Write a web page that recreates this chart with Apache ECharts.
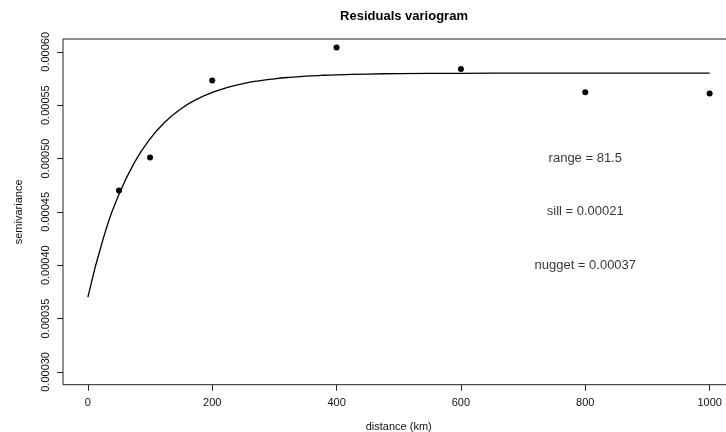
<!DOCTYPE html>
<html>
<head>
<meta charset="utf-8">
<script src="https://cdn.jsdelivr.net/npm/echarts@6/dist/echarts.min.js"></script>
<style>
html,body{margin:0;padding:0;background:#fff;}
#c{width:726px;height:432px;}
</style>
</head>
<body>
<div id="c"></div>
<script>
// Empirical variogram points
const distances = [50, 100, 200, 400, 600, 800, 1000];
const semivariance = [0.000470, 0.000501, 0.000573, 0.000604, 0.000584, 0.000562, 0.000561];

// Fitted model curve
const curveX = [0, 25, 50, 75, 100, 125, 150, 175, 200, 225, 250, 275, 300, 325, 350, 375, 400, 450, 500, 600, 700, 800, 900, 1000];
const curveY = [0.00037000, 0.00042547, 0.00046630, 0.00049633, 0.00051843, 0.00053470, 0.00054666, 0.00055547,
                0.00056195, 0.00056672, 0.00057023, 0.00057281, 0.00057471, 0.00057611, 0.00057714, 0.00057789,
                0.00057845, 0.00057916, 0.00057955, 0.00057987, 0.00057996, 0.00058000, 0.00058000, 0.00058000];

// Annotations
const noteX = [800, 800, 800];
const noteY = [0.00050, 0.00045, 0.00040];
const noteText = ['range = 81.5', 'sill = 0.00021', 'nugget = 0.00037'];

// Tick labels
const xTicks = [0, 200, 400, 600, 800, 1000];
const yTicks = [0.00030, 0.00035, 0.00040, 0.00045, 0.00050, 0.00055, 0.00060];

const FONT = '"Liberation Sans", Arial, Helvetica, sans-serif';
const chart = echarts.init(document.getElementById('c'), null, {renderer: 'canvas'});

chart.setOption({
  backgroundColor: '#fff',
  animation: false,
  title: {
    text: 'Residuals variogram',
    left: 399,
    textAlign: 'center',
    top: 5,
    textStyle: {fontFamily: FONT, fontSize: 13, fontWeight: 'bold', color: '#000'}
  },
  grid: {
    left: 63, top: 39, width: 671.5, height: 345.7,
    show: true, borderColor: '#222', borderWidth: 1, backgroundColor: 'transparent',
    containLabel: false,
    outerBoundsMode: 'none'
  },
  xAxis: {
    type: 'value', min: -40, max: 1040,
    name: 'distance (km)', nameLocation: 'middle', nameGap: 36.5,
    nameTextStyle: {fontFamily: FONT, fontSize: 11, color: '#111'},
    axisLine: {show: false, onZero: false},
    splitLine: {show: false},
    axisTick: {show: true, inside: false, length: 6, customValues: xTicks, lineStyle: {color: '#222', width: 1}},
    axisLabel: {show: true, margin: 13, customValues: xTicks, fontFamily: FONT, fontSize: 11, color: '#111',
                formatter: v => String(v)}
  },
  yAxis: {
    type: 'value', min: 0.000288, max: 0.000612,
    name: 'semivariance', nameLocation: 'middle', nameGap: 39, nameRotate: 90,
    nameTextStyle: {fontFamily: FONT, fontSize: 11, color: '#111'},
    axisLine: {show: false, onZero: false},
    splitLine: {show: false},
    axisTick: {show: true, inside: false, length: 6, customValues: yTicks, lineStyle: {color: '#222', width: 1}},
    axisLabel: {show: true, rotate: 90, margin: 12, customValues: yTicks, fontFamily: FONT, fontSize: 11, color: '#111',
                formatter: v => Number(v).toFixed(5)}
  },
  series: [
    {
      type: 'line',
      data: curveX.map((x, i) => [x, curveY[i]]),
      showSymbol: false,
      smooth: 0.5,
      lineStyle: {color: '#000', width: 1.3},
      silent: true,
      z: 2
    },
    {
      type: 'scatter',
      data: distances.map((x, i) => [x, semivariance[i]]),
      symbol: 'circle',
      symbolSize: 6,
      itemStyle: {color: '#000', opacity: 1},
      silent: true,
      z: 3
    },
    {
      type: 'scatter',
      data: noteX.map((x, i) => [x, noteY[i], noteText[i]]),
      symbolSize: 0,
      silent: true,
      label: {
        show: true, position: 'inside',
        formatter: p => p.data[2],
        fontFamily: FONT, fontSize: 13, color: '#000'
      },
      z: 4
    }
  ]
});
</script>
</body>
</html>
